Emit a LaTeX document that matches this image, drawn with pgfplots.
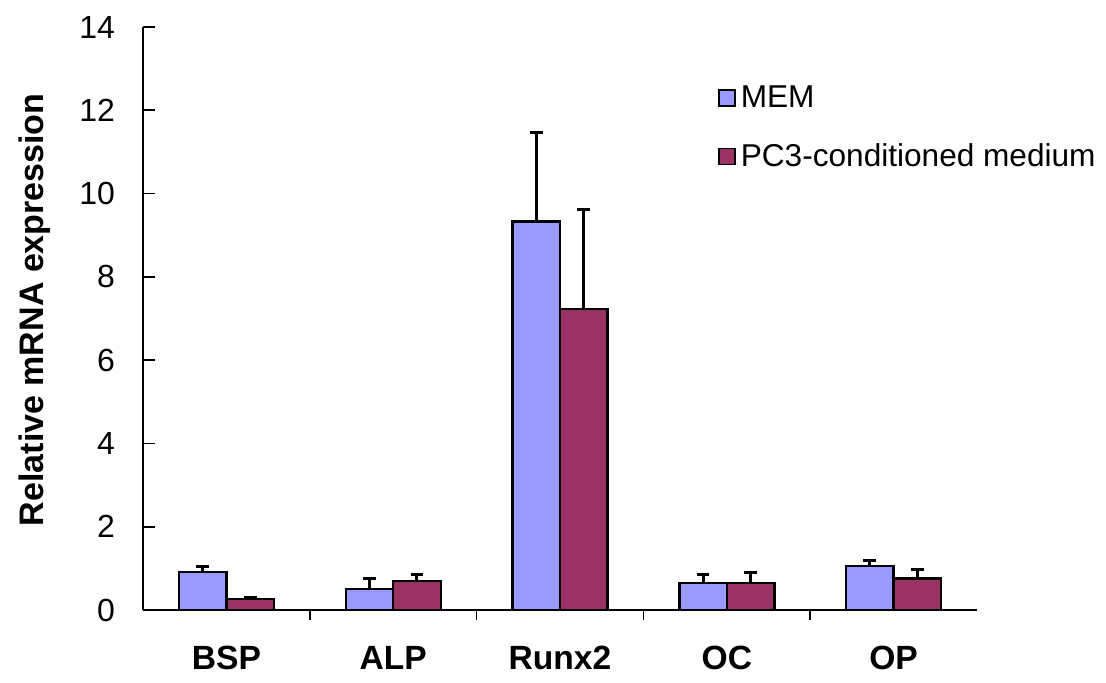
\documentclass[border=0pt]{standalone}
\usepackage{fontspec}
\setmainfont{Liberation Sans}
\usepackage{pgfplots}
\pgfplotsset{compat=1.18}
\definecolor{mem}{HTML}{9999FF}
\definecolor{pcc}{HTML}{993366}
\begin{document}
\begin{tikzpicture}
\begin{axis}[
  scale only axis, width=417pt, height=291.5pt,
  ymin=0, ymax=14, ytick={0,2,...,14},
  xmin=-0.5, xmax=4.5,
  xtick={0,1,2,3,4}, xticklabels={BSP,ALP,Runx2,OC,OP},
  minor xtick={0.5,1.5,2.5,3.5},
  axis x line*=bottom, axis y line*=left,
  axis line style={black, line width=0.8pt, -},
  tick align=inside,
  major tick length=6pt, minor tick length=5pt,
  major x tick style={draw=none},
  minor x tick style={draw=black, line width=0.8pt},
  ytick style={black, line width=0.8pt},
  /pgf/number format/assume math mode=true,
  yticklabel style={font=\fontsize{16}{19}\selectfont, xshift=-10.5pt},
  xticklabel style={font=\fontsize{16.8}{20}\selectfont\bfseries, yshift=-8.5pt},
  ylabel={\bfseries Relative mRNA expression},
  every axis y label/.style={at={(axis description cs:-0.13,0.515)}, rotate=90, anchor=center, font=\fontsize{17}{20}\selectfont},
  ybar=0pt, bar width=23.75pt,
  error bars/y dir=plus, error bars/y explicit,
  error bars/error bar style={black, line width=1.5pt},
  error bars/error mark options={black, line width=1.5pt, mark size=3.2pt, rotate=90},
  legend style={at={(0.689,0.907)}, anchor=north west, draw=none, fill=none,
    font=\fontsize{15.8}{19}\selectfont, row sep=12.5pt, inner sep=0pt},
  legend cell align=left,
  legend image code/.code={\draw[#1, line width=0.8pt] (0pt,-4pt) rectangle (8pt,4pt); \path[draw=none] (0pt,0pt) -- (9pt,0pt);},
]
\addplot[fill=mem, draw=black, line width=1.2pt] coordinates {
  (0,0.92) +- (0,0.12)
  (1,0.51) +- (0,0.24)
  (2,9.33) +- (0,2.13)
  (3,0.65) +- (0,0.21)
  (4,1.06) +- (0,0.14)
};
\addlegendentry{MEM}
\addplot[fill=pcc, draw=black, line width=1.2pt] coordinates {
  (0,0.26) +- (0,0.04)
  (1,0.70) +- (0,0.16)
  (2,7.23) +- (0,2.39)
  (3,0.65) +- (0,0.24)
  (4,0.76) +- (0,0.22)
};
\addlegendentry{PC3-conditioned medium}
\end{axis}
\pgfresetboundingbox
\path (-71.5pt,-36pt) rectangle (481.5pt,305pt);
\end{tikzpicture}
\end{document}
